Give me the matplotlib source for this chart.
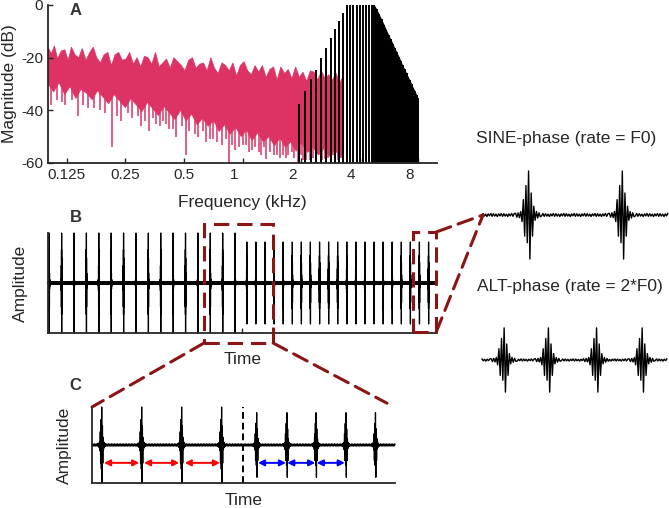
import numpy as np
import matplotlib
matplotlib.use("Agg")
import matplotlib.pyplot as plt
from matplotlib.patches import Rectangle, ConnectionPatch
from matplotlib.transforms import ScaledTranslation

plt.rcParams['font.family'] = ['Liberation Sans', 'DejaVu Sans']
plt.rcParams['axes.unicode_minus'] = False

AX_COL = '#262626'
NOISE_COL = '#DC3264'
BOX_COL = '#8B1414'

# ---------------- panel A: spectra ----------------
tick_khz = [0.125, 0.25, 0.5, 1, 2, 4, 8]
tick_labels = ['0.125', '0.25', '0.5', '1', '2', '4', '8']

noise_top_khz = [0.100, 0.104, 0.108, 0.112, 0.117, 0.122, 0.127, 0.132, 0.138, 0.144,
                 0.150, 0.157, 0.164, 0.171, 0.178, 0.186, 0.194, 0.203, 0.212, 0.221,
                 0.231, 0.241, 0.252, 0.263, 0.275, 0.287, 0.300, 0.313, 0.327, 0.342,
                 0.357, 0.373, 0.390, 0.407, 0.425, 0.444, 0.464, 0.485, 0.506, 0.529,
                 0.553, 0.577, 0.603, 0.630, 0.658, 0.688, 0.718, 0.750, 0.784, 0.819,
                 0.855, 0.893, 0.933, 0.975, 1.018, 1.064, 1.111, 1.161, 1.212, 1.266,
                 1.323, 1.382, 1.444, 1.508, 1.575, 1.646, 1.719, 1.796, 1.876, 1.959,
                 2.047, 2.138, 2.233, 2.333, 2.437, 2.546, 2.659, 2.778, 2.902, 3.031,
                 3.166, 3.300]
noise_top_db = [-16.0, -18.5, -15.5, -20.5, -17.5, -17.0, -21.0, -16.0, -19.0, -20.0,
                -16.5, -21.0, -18.0, -16.0, -20.0, -22.0, -19.0, -18.0, -23.0, -19.0,
                -18.0, -21.0, -20.5, -18.0, -22.5, -20.0, -23.5, -19.5, -20.0, -22.5,
                -18.0, -23.5, -22.0, -20.5, -24.0, -20.0, -21.5, -23.0, -25.0, -21.0,
                -20.0, -24.0, -22.5, -22.0, -25.0, -20.0, -24.0, -26.0, -22.0, -23.0,
                -25.0, -22.0, -27.0, -23.0, -21.5, -25.0, -26.5, -23.0, -25.5, -23.0,
                -27.5, -24.5, -23.5, -28.5, -23.5, -26.0, -24.5, -28.0, -23.5, -27.5,
                -25.5, -29.0, -25.0, -25.5, -28.5, -25.0, -28.0, -26.5, -28.5, -26.0,
                -29.5, -27.0]
noise_bot_khz = [0.100, 0.107, 0.114, 0.122, 0.130, 0.139, 0.148, 0.158, 0.169, 0.180,
                 0.192, 0.205, 0.219, 0.234, 0.250, 0.267, 0.285, 0.304, 0.325, 0.347,
                 0.370, 0.395, 0.422, 0.450, 0.481, 0.513, 0.548, 0.585, 0.624, 0.666,
                 0.711, 0.759, 0.810, 0.865, 0.923, 0.985, 1.05, 1.12, 1.20, 1.28,
                 1.37, 1.46, 1.56, 1.66, 1.77, 1.89, 2.02, 2.16, 2.30,
                 2.46, 2.62, 2.80, 2.99, 3.19, 3.30]
noise_bot_db = [-30, -33, -29.5, -34, -31, -35.5, -32, -33.5, -36, -32.5,
                -35, -37.5, -34, -36.5, -39, -35.5, -38, -40.5, -37, -39.5,
                -42, -38.5, -41, -43.5, -40, -44, -41.5, -45.5, -43, -46,
                -44, -48, -45.5, -49, -46.5, -50, -47.5, -51.5, -48.5, -52,
                -50, -53.5, -50.5, -54, -52, -55.5, -52.5, -56, -54,
                -57, -54.5, -57.5, -55, -58, -56]
# deep notches of the noise spectrum
noise_dip_khz = [0.104, 0.111, 0.122, 0.142, 0.160, 0.185, 0.2125, 0.249, 0.270, 0.300,
                 0.331, 0.360, 0.391, 0.420, 0.455, 0.510, 0.570, 0.604, 0.650, 0.708,
                 0.780, 0.850, 0.920, 1.010, 1.080, 1.163, 1.250, 1.313, 1.450, 1.550,
                 1.619, 1.790, 1.938, 2.050, 2.220, 2.400, 2.650, 2.910, 3.100,
                 0.118, 0.133, 0.152, 0.172, 0.196, 0.226, 0.238, 0.258, 0.290, 0.315,
                 0.345, 0.375, 0.405, 0.440, 0.490, 0.530, 0.590, 0.630, 0.680, 0.740,
                 0.820, 0.880, 0.960, 1.040, 1.120, 1.210, 1.290, 1.380, 1.500, 1.680,
                 1.720, 1.850, 2.000, 2.130, 2.300, 2.550, 2.750, 3.000, 3.220]
noise_dip_db = [-38, -36, -38, -42, -39, -40, -54, -38, -43, -46,
                -48, -45, -44, -47, -50, -57, -49, -44, -52, -51,
                -53, -60, -55, -53, -56, -54, -57, -58.5, -57, -58,
                -57, -56, -60, -59, -59, -59.5, -58.5, -57, -59,
                -37, -36, -38, -39, -41, -42, -44, -41, -42, -44,
                -43, -46, -45, -47, -46, -48, -50, -48, -51, -52,
                -51, -53, -54, -53, -55, -56, -54, -56, -57, -58,
                -57, -58, -57, -59, -58, -59, -58, -59, -58]

harm_khz = [1.95, 2.10, 2.25, 2.39, 2.54, 2.69, 2.84, 2.98, 3.13, 3.28,
            3.43, 3.58, 3.72, 3.87, 4.02, 4.17, 4.31, 4.46, 4.61, 4.76,
            4.90, 5.05, 5.20, 5.35, 5.49, 5.64, 5.79, 5.94, 6.08, 6.23,
            6.38, 6.53, 6.67, 6.82, 6.97, 7.12, 7.26, 7.41, 7.56, 7.71,
            7.85, 8.00]
harm_db = [-37.6, -32.5, -28.2, -24.7, -20.3, -16.5, -12.7, -9.2, -6.0, -3.2,
           0, 0, 0, 0, 0, 0, 0, 0, 0, 0,
           -1.5, -3.6, -5.5, -7.5, -9.4, -11.3, -13.0, -14.7, -16.5, -18.0,
           -19.7, -21.3, -22.9, -24.3, -25.8, -27.3, -28.6, -30.0, -31.4, -32.8,
           -34.0, -35.5]

# ---------------- pulse trains (time in ms) ----------------
burst_shape = [0.04, -0.05, 0.05, -0.06, 0.08, -0.15, 0.35, -0.48, 0.67, -0.63,
               1.0, -1.0, 0.5, -0.48, 0.2, -0.12, 0.08, -0.07, 0.05, -0.04]
ripple = [0.03, -0.025, 0.02, -0.035, 0.025, -0.02, 0.035, -0.03]

b_sine_ms = [1, 11, 21, 31, 41, 51, 61, 71, 81, 91, 101, 111, 121, 131, 141, 151]
b_alt_ms = [160.5, 167.8, 175.2, 182.5, 189.8, 197.2, 204.5, 211.8, 219.2, 226.5,
            233.8, 241.2, 248.5, 255.8, 263.2, 270.5, 277.8, 285.2, 292.5, 299.8, 307.2]
b_switch_ms = 156.7
c_sine_ms = [2.4, 12.4, 22.4, 32.4]
c_alt_ms = [41.2, 48.7, 56.0, 63.5, 70.9]
c_switch_ms = 37.75
sine_ms = [4.95, 14.95]
alt_ms = [2.37, 7.2, 12.26, 17.2]

red_arrows = [(3.0, 11.8), (13.0, 21.8), (23.2, 32.0)]
blue_arrows = [(41.5, 48.5), (48.8, 55.8), (56.2, 63.2)]


def pulse_train(pulses, amp, t0, t1, step, ripple_scale=1.0):
    t = np.arange(t0, t1, step)
    y = np.resize(np.array(ripple), len(t)) * ripple_scale
    shape = np.array(burst_shape)
    peak = int(np.argmax(shape))
    for p in pulses:
        i = int(round((p - t0) / step)) - peak
        lo, hi = max(i, 0), min(i + len(shape), len(t))
        if hi > lo:
            y[lo:hi] = shape[lo - i:hi - i]
    return t, y * amp


def style_axes(ax):
    for s in ['top', 'right']:
        ax.spines[s].set_visible(False)
    for s in ['left', 'bottom']:
        ax.spines[s].set_linewidth(1.3)
        ax.spines[s].set_color(AX_COL)
    ax.tick_params(direction='in', length=3.5, width=1, colors=AX_COL,
                   labelsize=11, labelcolor=AX_COL)


fig = plt.figure(figsize=(6.69, 5.08), dpi=100)
W, H = 669.0, 508.0

# ---- A ----
axA = fig.add_axes([48 / W, 1 - 163 / H, 389 / W, 158 / H])
style_axes(axA)
axA.fill(noise_top_khz + noise_bot_khz[::-1], noise_top_db + noise_bot_db[::-1],
         color=NOISE_COL, lw=0.5, zorder=1)
axA.vlines(noise_dip_khz, noise_dip_db, -30, color=NOISE_COL, lw=1.1, zorder=1)
axA.vlines(harm_khz, -60, harm_db, color='k', lw=1.4, zorder=2)
axA.fill_between(harm_khz[19:], harm_db[19:], -60, color='k', lw=0, zorder=2)
axA.set_xscale('log')
axA.set_xlim(0.1, 10)
axA.set_ylim(-60, 0)
axA.set_xticks(tick_khz)
axA.set_xticklabels(tick_labels)
axA.minorticks_off()
axA.set_yticks([-60, -40, -20, 0])
axA.set_yticklabels(['-60', '-40', '-20', '0'])
shift = ScaledTranslation(-8.5 / 100, 0, fig.dpi_scale_trans)
for lbl in axA.get_xticklabels()[3:]:
    lbl.set_transform(lbl.get_transform() + shift)
axA.set_xlabel('Frequency (kHz)', fontsize=12.5, color=AX_COL)
axA.xaxis.set_label_coords(0.5, -0.2)
axA.set_ylabel('Magnitude (dB)', fontsize=12.5, color=AX_COL)
axA.yaxis.set_label_coords(-0.08, 0.5)

# ---- B ----
axB = fig.add_axes([48 / W, 1 - 333 / H, 389 / W, 100 / H])
style_axes(axB)
t1, y1 = pulse_train(b_sine_ms, 1.0, 0, b_switch_ms, 0.05, 0.5)
t2, y2 = pulse_train(b_alt_ms, 0.82, b_switch_ms, 314, 0.05, 0.6)
axB.plot(np.r_[t1, t2], np.r_[y1, y2], color='k', lw=0.9, clip_on=False)
axB.set_xlim(0, 314)
axB.set_ylim(-1, 1)
axB.set_xticks([b_switch_ms])
axB.set_xticklabels([''])
axB.set_yticks([])
axB.set_xlabel('Time', fontsize=12.5, color=AX_COL)
axB.xaxis.set_label_coords(0.5, -0.19)
axB.set_ylabel('Amplitude', fontsize=12.5, color=AX_COL)
axB.yaxis.set_label_coords(-0.052, 0.5)

dash = (0, (5, 2.6))
box1 = (126.0, 181.7, -1.2, 1.18)
box2 = (294.8, 313.4, -0.98, 1.02)
for x0, x1, y0, y1_ in [box1, box2]:
    axB.add_patch(Rectangle((x0, y0), x1 - x0, y1_ - y0, fill=False, ec=BOX_COL,
                            lw=2.2, ls=dash, clip_on=False, zorder=5))

# ---- C ----
axC = fig.add_axes([92 / W, 1 - 483 / H, 303 / W, 76 / H])
style_axes(axC)
t1, y1 = pulse_train(c_sine_ms, 1.0, 0, c_switch_ms, 0.09, 0.8)
t2, y2 = pulse_train(c_alt_ms, 0.85, c_switch_ms, 75.75, 0.09, 0.9)
axC.plot(np.r_[t1, t2], np.r_[y1, y2], color='k', lw=0.9, clip_on=False)
axC.vlines(c_switch_ms, -1, 1, color='k', lw=1.4, ls=(0, (3.5, 2)))
for (a, b), col in [(r, 'red') for r in red_arrows] + [(b_, 'blue') for b_ in blue_arrows]:
    axC.annotate('', xy=(b, -0.47), xytext=(a, -0.47),
                 arrowprops=dict(arrowstyle='<|-|>', color=col, lw=1.4,
                                 mutation_scale=9, shrinkA=0, shrinkB=0))
axC.set_xlim(0, 75.75)
axC.set_ylim(-1, 1)
axC.set_xticks([])
axC.set_yticks([])
axC.set_xlabel('Time', fontsize=12.5, color=AX_COL)
axC.xaxis.set_label_coords(0.5, -0.13)
axC.set_ylabel('Amplitude', fontsize=12.5, color=AX_COL)
axC.yaxis.set_label_coords(-0.066, 0.5)

# ---- right: SINE / ALT waveforms ----
axS = fig.add_axes([483 / W, 1 - 263.4 / H, 186 / W, 96.8 / H])
axT = fig.add_axes([482 / W, 1 - 408.4 / H, 186 / W, 96.8 / H])
for ax, pulses, amp in [(axS, sine_ms, 1.0), (axT, alt_ms, 0.73)]:
    t, y = pulse_train(pulses, amp, 0, 19.95, 0.14)
    ax.plot(t, y, color='k', lw=1.0, clip_on=False)
    ax.set_xlim(0, 20)
    ax.set_ylim(-1.1, 1.1)
    ax.axis('off')

fig.text(565.8 / W, 1 - 138 / H, 'SINE-phase (rate = F0)', fontsize=12.5,
         color=AX_COL, ha='center', va='center')
fig.text(570 / W, 1 - 287 / H, 'ALT-phase (rate = 2*F0)', fontsize=12.5,
         color=AX_COL, ha='center', va='center')

# connectors
links = [((box1[0], box1[2]), axC, (0, 1)),
         ((box1[1], box1[2]), axC, (73.75, 1.1)),
         ((box2[1], box2[3]), axS, (0, 0)),
         ((box2[1], box2[2]), axS, (0, 0))]
for xyA, axOther, xyB in links:
    con = ConnectionPatch(xyA=xyA, coordsA=axB.transData, xyB=xyB,
                          coordsB=axOther.transData, color=BOX_COL, lw=2.2,
                          ls=dash, zorder=6)
    fig.add_artist(con)

# panel letters
for letter, ypix in [('A', 10.5), ('B', 218), ('C', 385.5)]:
    fig.text(75.5 / W, 1 - ypix / H, letter, fontsize=12, fontweight='bold',
             color='#333333', ha='center', va='center')

fig.savefig('out.png', dpi=100)
